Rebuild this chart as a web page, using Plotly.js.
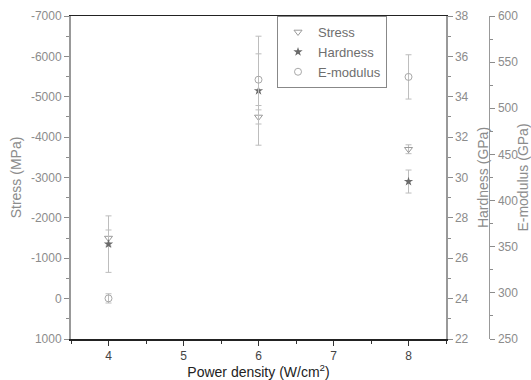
<!DOCTYPE html>
<html>
<head>
<meta charset="utf-8">
<script src="https://cdn.plot.ly/plotly-3.0.1.min.js"></script>
<style>html,body{margin:0;padding:0;background:#fff;}#chart{width:531px;height:380px;}</style>
</head>
<body>
<div id="chart"></div>
<script>
// Data
var powerDensity = [4, 6, 8];
var stress = [-1500, -4500, -3700];
var stressErr = [200, 175, 110];
var hardness = [26.7, 34.3, 29.8];
var hardnessErr = [1.4, 2.7, 0.57];
var emodulus = [294, 531, 534];
var emodulusErr = [5, 28, 24];

var stressTickVals = [-7000, -6000, -5000, -4000, -3000, -2000, -1000, 0, 1000];
var stressTickText = ["-7000", "-6000", "-5000", "-4000", "-3000", "-2000", "-1000", "0", "1000"];

var gray = '#8c8c8c';
var F = 'Liberation Sans, Arial, sans-serif';

var traces = [
  {
    x: powerDensity, y: stress, name: 'Stress', type: 'scatter', mode: 'markers',
    yaxis: 'y',
    marker: {symbol: 'triangle-down-open', size: 7, color: '#9a9a9a', line: {width: 1}},
    error_y: {type: 'data', array: stressErr, color: '#bdbdbd', thickness: 1, width: 3}
  },
  {
    x: powerDensity, y: hardness, name: 'Hardness', type: 'scatter', mode: 'markers',
    yaxis: 'y2',
    marker: {symbol: 'star', size: 7, color: '#6a6a6a'},
    error_y: {type: 'data', array: hardnessErr, color: '#bdbdbd', thickness: 1, width: 3}
  },
  {
    x: powerDensity, y: emodulus, name: 'E-modulus', type: 'scatter', mode: 'markers',
    yaxis: 'y3',
    marker: {symbol: 'circle-open', size: 7, color: '#a8a8a8', line: {width: 1}},
    error_y: {type: 'data', array: emodulusErr, color: '#bdbdbd', thickness: 1, width: 3}
  }
];

var layout = {
  width: 531, height: 380,
  margin: {l: 71, r: 40, t: 16, b: 41},
  paper_bgcolor: '#fff', plot_bgcolor: '#fff',
  font: {family: F, color: gray, size: 12},
  showlegend: true,
  legend: {
    x: 0.4905, y: 1, xanchor: 'left', yanchor: 'top',
    bordercolor: '#888', borderwidth: 1, bgcolor: '#fff',
    font: {family: F, size: 13, color: '#6e6e6e'},
    tracegroupgap: 0, itemwidth: 30
  },
  xaxis: {
    domain: [0, 0.8929],
    range: [3.5, 8.5],
    tickvals: [4, 5, 6, 7, 8],
    ticks: 'outside', ticklen: 5, tickcolor: '#333', tickwidth: 1,
    minor: {dtick: 0.5, ticks: 'outside', ticklen: 3, tickcolor: '#333'},
    showline: true, linecolor: '#222', linewidth: 1.5, mirror: true,
    showgrid: false, zeroline: false,
    tickfont: {family: F, size: 12, color: '#444'},
    title: {text: 'Power density (W/cm<sup>2</sup>)', font: {family: F, size: 14, color: '#222'}, standoff: 0}
  },
  yaxis: {
    range: [1000, -7000],
    tickvals: stressTickVals, ticktext: stressTickText,
    ticks: 'outside', ticklen: 5, tickcolor: gray, tickwidth: 1,
    minor: {dtick: 500, ticks: 'outside', ticklen: 3, tickcolor: gray},
    showline: true, linecolor: '#999', linewidth: 2,
    showgrid: false, zeroline: false,
    tickfont: {family: F, size: 12, color: gray},
    title: {text: 'Stress (MPa)', font: {family: F, size: 14, color: gray}, standoff: 6}
  },
  yaxis2: {
    overlaying: 'y', side: 'right', anchor: 'x',
    range: [22, 38], dtick: 2, tick0: 22,
    ticks: 'outside', ticklen: 5, tickcolor: gray, tickwidth: 1,
    minor: {dtick: 1, ticks: 'outside', ticklen: 3, tickcolor: gray},
    showline: true, linecolor: '#999', linewidth: 1.5,
    showgrid: false, zeroline: false,
    tickfont: {family: F, size: 12, color: gray},
    title: {text: 'Hardness (GPa)', font: {family: F, size: 14, color: gray}, standoff: 10}
  },
  yaxis3: {
    overlaying: 'y', side: 'right', anchor: 'free', position: 0.9952,
    range: [250, 600], dtick: 50, tick0: 250,
    ticks: 'outside', ticklen: 5, tickcolor: gray, tickwidth: 1,
    minor: {dtick: 25, ticks: 'outside', ticklen: 3, tickcolor: gray},
    showline: true, linecolor: '#999', linewidth: 1.5,
    showgrid: false, zeroline: false,
    tickfont: {family: F, size: 12, color: gray},
    title: {text: 'E-modulus (GPa)', font: {family: F, size: 14, color: gray}, standoff: 6}
  }
};

Plotly.newPlot('chart', traces, layout, {displayModeBar: false, staticPlot: true});
</script>
</body>
</html>
